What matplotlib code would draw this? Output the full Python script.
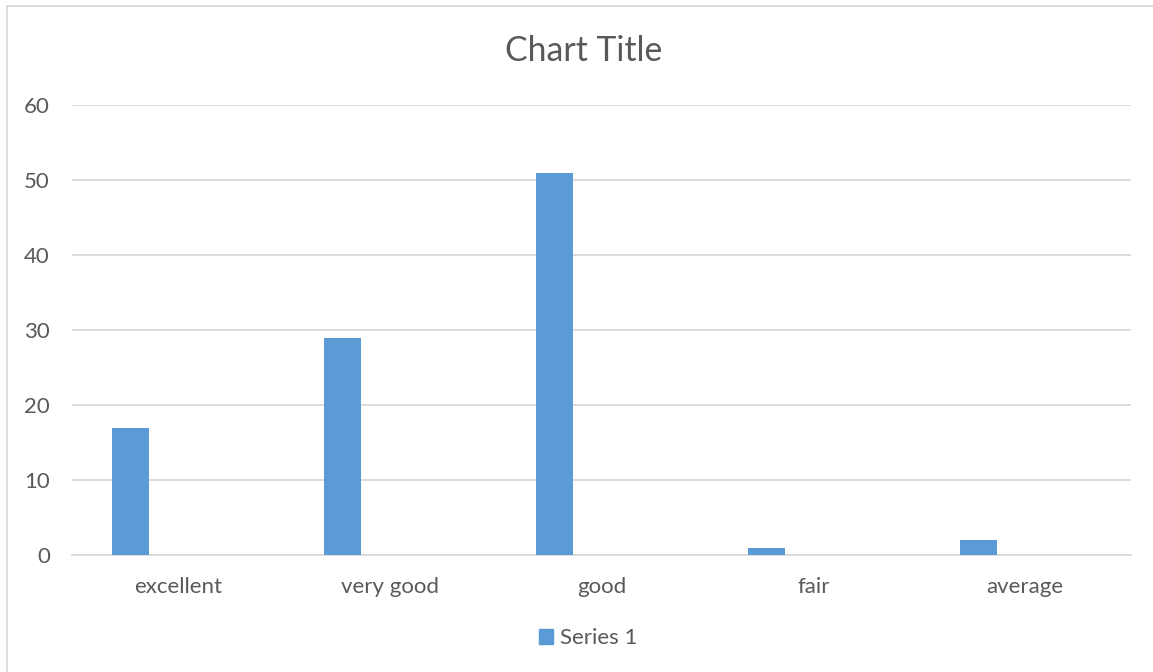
import matplotlib
matplotlib.use("Agg")
import matplotlib.pyplot as plt
from matplotlib.lines import Line2D
from matplotlib.patches import Patch
import numpy as np

categories = ["excellent", "very good", "good", "fair", "average"]
series_1 = [17, 29, 51, 1, 2]
y_ticks = [0, 10, 20, 30, 40, 50, 60]

BAR = "#5B9BD5"
TEXT = "#595959"
GRID = "#D9D9D9"

plt.rcParams["font.family"] = ["Lato", "DejaVu Sans"]

W, H = 1153, 672
fig = plt.figure(figsize=(W / 100, H / 100), dpi=100)
ax = fig.add_axes([72 / W, 1 - 555 / H, (1131 - 72) / W, 450 / H])

# bars sit left of the category centre, as in a clustered column chart
x = np.arange(len(categories))
ax.bar(x - 0.222, series_1, width=0.175, color=BAR, zorder=3)

ax.set_xlim(-0.5, len(categories) - 0.5)
ax.set_ylim(0, 60)
ax.set_yticks(y_ticks)
ax.set_xticks(x)
ax.set_xticklabels(categories)
ax.tick_params(axis="both", length=0, labelsize=16, labelcolor=TEXT)
ax.tick_params(axis="y", pad=16)
ax.tick_params(axis="x", pad=15.5)
ax.grid(axis="y", color=GRID, linewidth=1.3, zorder=0)
for side in ["top", "right", "left"]:
    ax.spines[side].set_visible(False)
ax.spines["bottom"].set_color(GRID)
ax.spines["bottom"].set_linewidth(1.3)

fig.text(584 / W, 1 - 51 / H, "Chart Title", ha="center", va="center",
         fontsize=24.3, color=TEXT)

fig.legend(handles=[Patch(color=BAR, label="Series 1")], loc="center",
           bbox_to_anchor=(588 / W, 1 - 638 / H), frameon=False, fontsize=16,
           labelcolor=TEXT, handlelength=0.65, handleheight=0.65, handletextpad=0.3)

# chart frame
fig.add_artist(Line2D([7 / W, 1], [1 - 6 / H, 1 - 6 / H], transform=fig.transFigure,
                      color=GRID, linewidth=1.3))
fig.add_artist(Line2D([7 / W, 7 / W], [0, 1 - 6 / H], transform=fig.transFigure,
                      color=GRID, linewidth=1.3))

fig.savefig("out.png", dpi=100)
